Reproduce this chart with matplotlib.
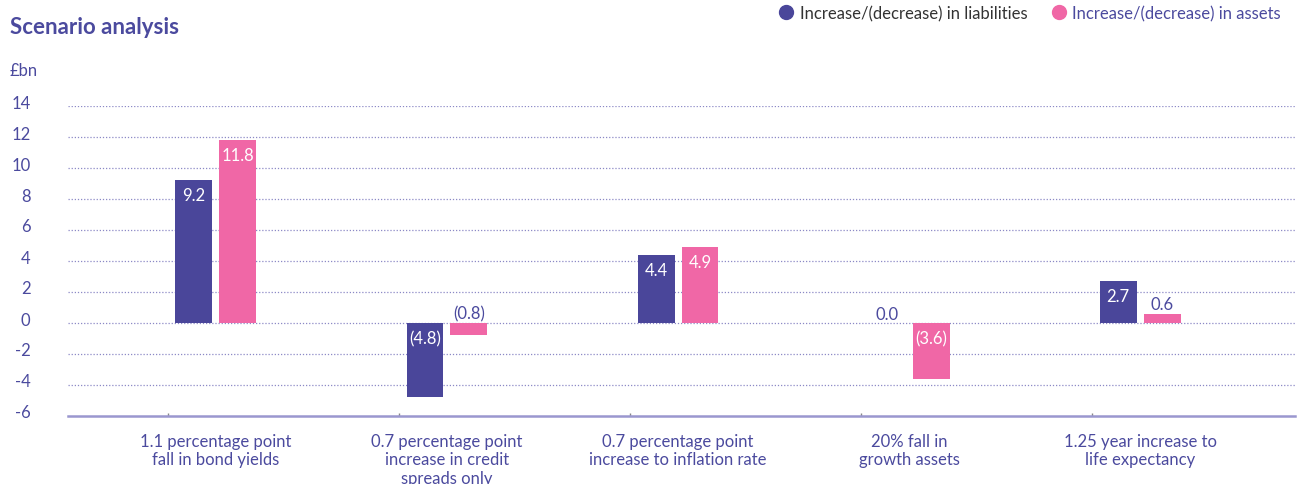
import numpy as np
import matplotlib
matplotlib.use('Agg')
import matplotlib.pyplot as plt
import matplotlib.transforms as mtransforms
from matplotlib.lines import Line2D

plt.rcParams['font.family'] = ['Lato', 'DejaVu Sans']

categories = [
    "1.1 percentage point\nfall in bond yields",
    "0.7 percentage point\nincrease in credit\nspreads only",
    "0.7 percentage point\nincrease to inflation rate",
    "20% fall in\ngrowth assets",
    "1.25 year increase to\nlife expectancy",
]
liabilities = [9.2, -4.8, 4.4, 0.0, 2.7]
assets = [11.8, -0.8, 4.9, -3.6, 0.6]
yticks = [-6, -4, -2, 0, 2, 4, 6, 8, 10, 12, 14]

navy = '#4A469A'
pink = '#F067A6'
text_col = '#4B4A9E'
grid_col = '#8C89C6'


def fmt(v):
    return f"({abs(v):.1f})" if v < 0 else f"{v:.1f}"


fig = plt.figure(figsize=(13.05, 4.85), dpi=100)
ax = fig.add_axes([68 / 1305, 68 / 485, 1227 / 1305, 310 / 485])

x = np.arange(len(categories))
w = 0.16
off = 0.095
b1 = ax.bar(x - off, liabilities, w, color=navy, zorder=3)
b2 = ax.bar(x + off, assets, w, color=pink, zorder=3)

# value labels: inside the bar when there is room, otherwise just outside
for bars, vals in ((b1, liabilities), (b2, assets)):
    for rect, v in zip(bars, vals):
        cx = rect.get_x() + rect.get_width() / 2
        if abs(v) >= 1.5:
            ax.annotate(fmt(v), (cx, v if v > 0 else 0), xytext=(0, -5),
                        textcoords='offset points', ha='center', va='top',
                        color='white', fontsize=12, zorder=4)
        else:
            ax.annotate(fmt(v), (cx, max(v, 0)), xytext=(0, 1),
                        textcoords='offset points', ha='center', va='bottom',
                        color=text_col, fontsize=12, zorder=4)

ax.set_xlim(-0.64, 4.67)
ax.set_ylim(-6, 14)

ax.set_yticks(yticks)
ax.set_yticklabels([str(t) for t in yticks])
ax.tick_params(axis='y', length=0, pad=27, labelsize=12, labelcolor=text_col)
shift = mtransforms.ScaledTranslation(0, 5 / 100, fig.dpi_scale_trans)
for lab in ax.get_yticklabels():
    lab.set_transform(lab.get_transform() + shift)

ax.set_xticks(x)
ax.set_xticklabels(categories, linespacing=1.2)
ax.tick_params(axis='x', length=0, pad=12, labelsize=12, labelcolor=text_col)
ax.set_xticks(x - 0.208, minor=True)
ax.tick_params(axis='x', which='minor', length=2, width=1, color='#888888', direction='in')

for t in yticks[1:]:
    ax.axhline(t, color=grid_col, lw=0.9, ls=(0, (1, 1.5)), zorder=1)

for s in ('top', 'right', 'left'):
    ax.spines[s].set_visible(False)
ax.spines['bottom'].set_color('#9A97CF')
ax.spines['bottom'].set_linewidth(1.8)

fig.text(10 / 1305, 1 - 27 / 485, "Scenario analysis", fontsize=16, fontweight='bold',
         color=text_col, va='center', ha='left')
fig.text(10 / 1305, 1 - 71 / 485, "£bn", fontsize=12, color=text_col, va='center', ha='left')

handles = [
    Line2D([], [], marker='o', ls='none', markersize=10, color=navy),
    Line2D([], [], marker='o', ls='none', markersize=10, color=pink),
]
leg = fig.legend(handles, ["Increase/(decrease) in liabilities", "Increase/(decrease) in assets"],
                 loc='center right', bbox_to_anchor=(1281 / 1305, 1 - 14 / 485), ncol=2,
                 frameon=False, fontsize=12, handletextpad=0.3, columnspacing=1.4,
                 handlelength=1.0, borderaxespad=0, borderpad=0)
leg.get_texts()[0].set_color('#333333')
leg.get_texts()[1].set_color(text_col)

fig.savefig('out.png', dpi=100)
